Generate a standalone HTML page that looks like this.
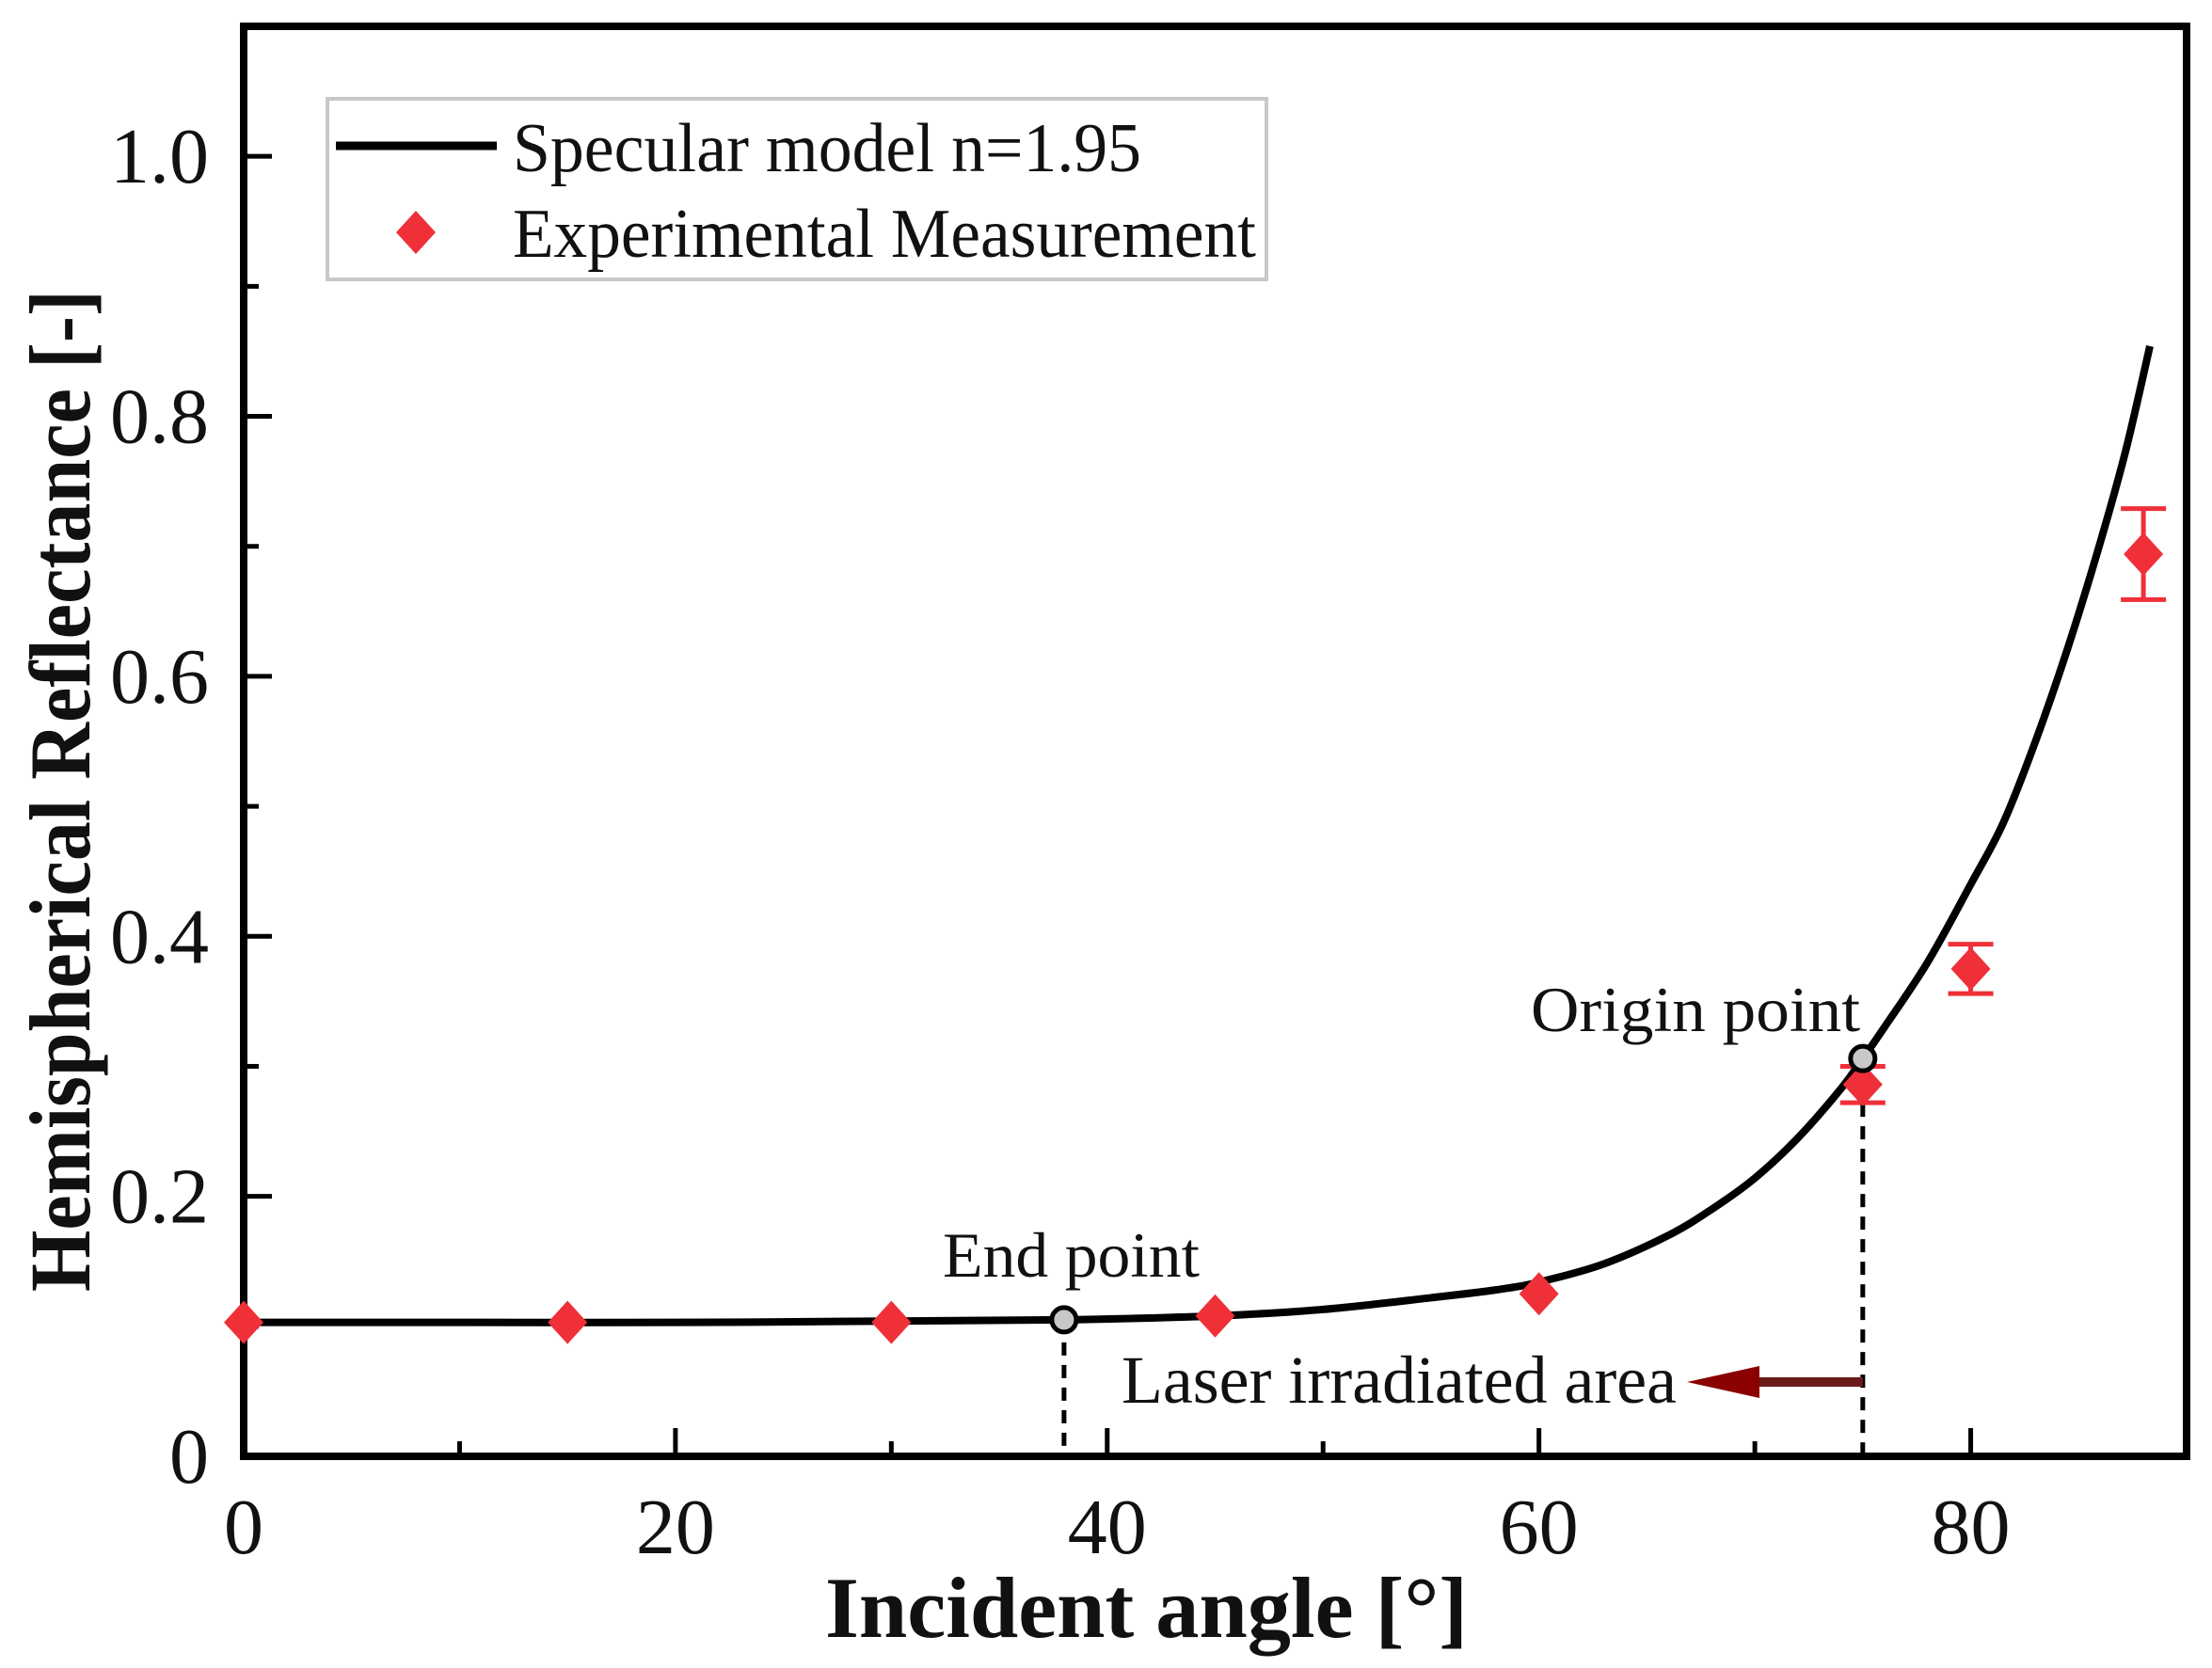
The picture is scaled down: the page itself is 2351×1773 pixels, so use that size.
<!DOCTYPE html>
<html><head><meta charset="utf-8"><style>
html,body{margin:0;padding:0;background:#fff;}
svg{display:block;font-family:"Liberation Serif",serif;}
</style></head><body>
<svg id="chart" width="2351" height="1773" viewBox="0 0 2351 1773" xmlns="http://www.w3.org/2000/svg">
<g id="plot"></g>
</svg>
<script>
const curveX = [0,10,20,30,38,45,50,55,58,60,63,66,68,70,72,74,75,76,78,80,81.5,83,84.5,86,87.2,88.3];
const curveY = [0.103,0.103,0.103,0.104,0.105,0.108,0.113,0.122,0.128,0.134,0.148,0.170,0.190,0.214,0.245,0.283,0.306,0.330,0.380,0.440,0.487,0.550,0.622,0.703,0.775,0.854];
const expX = [0,15,30,45,60,75,80,88];
const expY = [0.103,0.103,0.103,0.108,0.125,0.286,0.375,0.694];
const expErr = [0,0,0,0,0,0.014,0.019,0.035];
const xTicks = [0,20,40,60,80];
const xTickLabels = ["0","20","40","60","80"];
const xMinor = [10,30,50,70];
const yTicks = [0,0.2,0.4,0.6,0.8,1.0];
const yTickLabels = ["0","0.2","0.4","0.6","0.8","1.0"];
const yMinor = [0.1,0.3,0.5,0.7,0.9];
const markX = [38,75];
const markY = [0.105,0.306];

const X0=259, X1=2324, Y0=1548, Y1=28, XMAX=90, YMAX=1.1;
const sx = v => X0 + v/XMAX*(X1-X0);
const sy = v => Y0 - v/YMAX*(Y0-Y1);
const NS="http://www.w3.org/2000/svg";
const g=document.getElementById('plot');
function mk(tag, attrs, parent){const e=document.createElementNS(NS,tag);for(const k in attrs)e.setAttribute(k,attrs[k]);(parent||g).appendChild(e);return e;}

let fr=mk('rect',{x:X0,y:Y1,width:X1-X0,height:Y0-Y1,fill:'none',stroke:'#000','stroke-width':8});



xTicks.forEach((v,i)=>{
  let t=mk('line',{x1:sx(v),x2:sx(v),y1:Y0,y2:Y0-30,stroke:'#000','stroke-width':5});
  
  
  let l=mk('text',{x:sx(v),y:1651,'font-size':84,'text-anchor':'middle',fill:'#111'});
  l.textContent=xTickLabels[i];
  
  
});
xMinor.forEach(v=>{
  let t=mk('line',{x1:sx(v),x2:sx(v),y1:Y0,y2:Y0-16,stroke:'#000','stroke-width':5});
  
  
});
yTicks.forEach((v,i)=>{
  if(v>0){
  let t=mk('line',{x1:X0,x2:X0+30,y1:sy(v),y2:sy(v),stroke:'#000','stroke-width':5});
  
  
  }
  let l=mk('text',{x:222,y:sy(v)+28,'font-size':84,'text-anchor':'end',fill:'#111'});
  l.textContent=yTickLabels[i];
  
  
});
yMinor.forEach(v=>{
  let t=mk('line',{x1:X0,x2:X0+16,y1:sy(v),y2:sy(v),stroke:'#000','stroke-width':5});
  
  
});

markX.forEach((v,i)=>{
  let d=mk('line',{x1:sx(v),x2:sx(v),y1:sy(markY[i]),y2:Y0,stroke:'#000','stroke-width':5,'stroke-dasharray':'14 10'});
  
  
});

const pts=curveX.map((v,i)=>[sx(v),sy(curveY[i])]);
let dstr='M'+pts[0][0]+','+pts[0][1];
for(let i=0;i<pts.length-1;i++){
  const p0=pts[Math.max(0,i-1)],p1=pts[i],p2=pts[i+1],p3=pts[Math.min(pts.length-1,i+2)];
  const c1=[p1[0]+(p2[0]-p0[0])/6,p1[1]+(p2[1]-p0[1])/6];
  const c2=[p2[0]-(p3[0]-p1[0])/6,p2[1]-(p3[1]-p1[1])/6];
  dstr+=` C${c1[0]},${c1[1]} ${c2[0]},${c2[1]} ${p2[0]},${p2[1]}`;
}
let cv=mk('path',{d:dstr,fill:'none',stroke:'#000','stroke-width':8,'stroke-linejoin':'round'});



const RED='#f03038';
expX.forEach((v,i)=>{
  const cx=sx(v), cy=sy(expY[i]);
  if(expErr[i]>0){
    const yt=sy(expY[i]+expErr[i]), yb=sy(expY[i]-expErr[i]);
    let eb=mk('path',{d:`M${cx},${yt}V${yb}M${cx-24},${yt}H${cx+24}M${cx-24},${yb}H${cx+24}`,stroke:RED,'stroke-width':5,fill:'none'});
    
    
  }
  let p=mk('path',{d:`M${cx},${cy-23}L${cx+21},${cy}L${cx},${cy+23}L${cx-21},${cy}Z`,fill:RED});
  
  
});

markX.forEach((v,i)=>{
  let c=mk('circle',{cx:sx(v),cy:sy(markY[i]),r:13,fill:'#c8c8c8',stroke:'#000','stroke-width':5});
  
  
});

let ar=mk('line',{x1:sx(75),x2:1865,y1:1469,y2:1469,stroke:'#6b1a1a','stroke-width':10});


let ah=mk('path',{d:'M1793,1469 L1870,1452 L1870,1486 Z',fill:'#8b0000'});


</script>
<svg style="position:absolute;left:0;top:0" width="2351" height="1773" xmlns="http://www.w3.org/2000/svg">
<g font-family="Liberation Serif, serif" fill="#111">
<text x="1002" y="1357" font-size="68" textLength="273" lengthAdjust="spacingAndGlyphs">End point</text>
<text x="1627" y="1096" font-size="68" textLength="350" lengthAdjust="spacingAndGlyphs">Origin point</text>
<text x="1192" y="1491" font-size="72" textLength="590" lengthAdjust="spacingAndGlyphs">Laser irradiated area</text>
<rect x="348" y="105" width="998" height="192" fill="#fff" stroke="#c8c8c8" stroke-width="4"/>
<line x1="357" x2="528" y1="155" y2="155" stroke="#000" stroke-width="9"/>
<text x="545" y="182" font-size="74" textLength="668" lengthAdjust="spacingAndGlyphs">Specular model n=1.95</text>
<path d="M442,224 L463,247 L442,270 L421,247 Z" fill="#f03038"/>
<text x="545" y="273" font-size="74" textLength="790" lengthAdjust="spacingAndGlyphs">Experimental Measurement</text>
<text x="877" y="1740" font-size="92" font-weight="bold" textLength="683" lengthAdjust="spacingAndGlyphs">Incident angle [°]</text>
<text transform="translate(95,1373) rotate(-90)" x="0" y="0" font-size="92" font-weight="bold" textLength="1065" lengthAdjust="spacingAndGlyphs">Hemispherical Reflectance [-]</text>
</g>
</svg>
</body></html>
